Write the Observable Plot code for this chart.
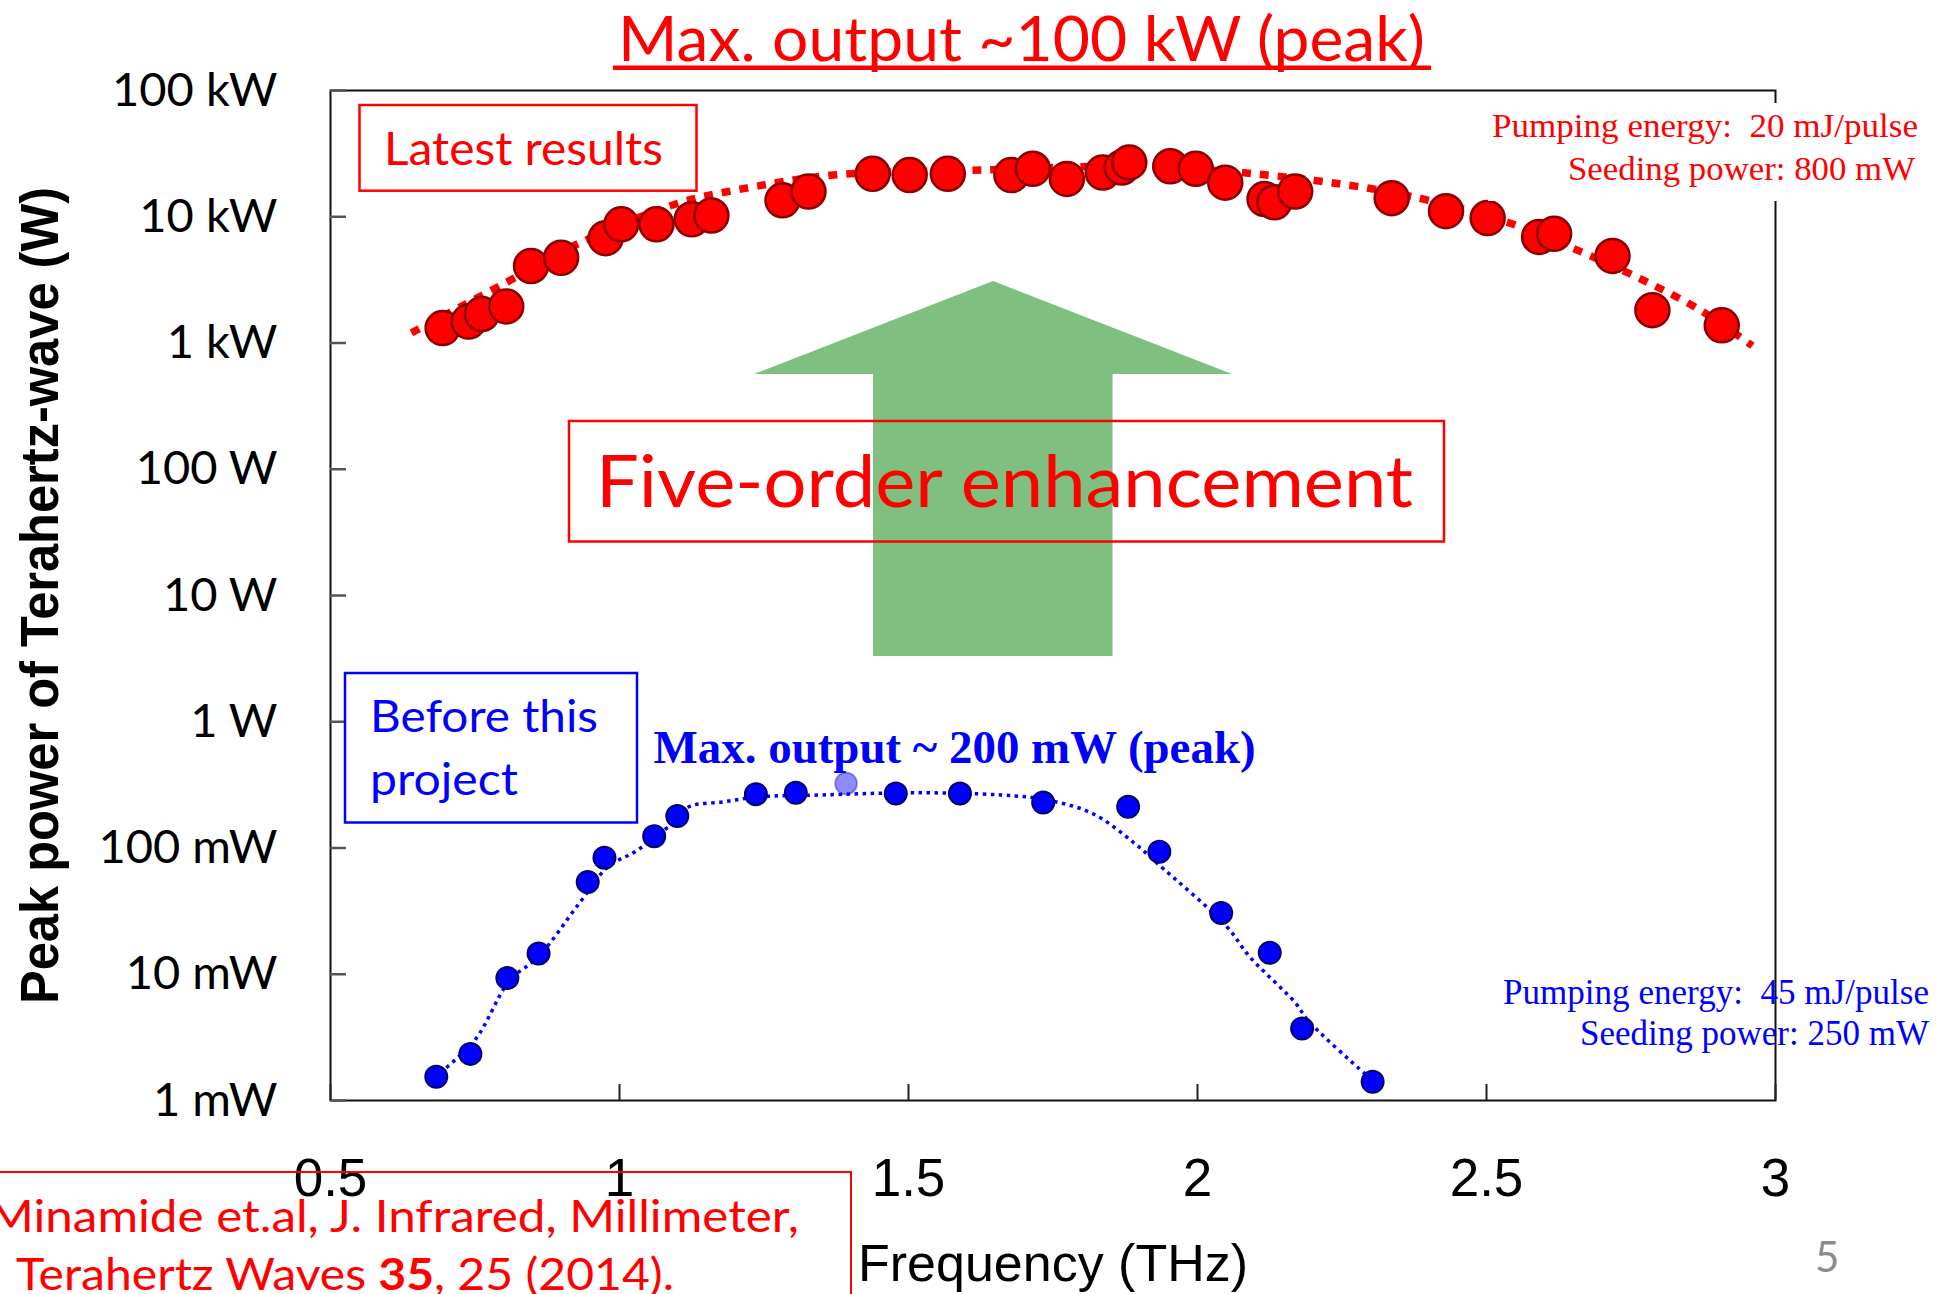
<!DOCTYPE html>
<html>
<head>
<meta charset="utf-8">
<script src="https://cdn.jsdelivr.net/npm/d3@7"></script>
<script src="https://cdn.jsdelivr.net/npm/@observablehq/plot@0.6"></script>
<style>
  html, body { margin: 0; padding: 0; background: #fff; }
  #page { position: relative; width: 1953px; height: 1294px; overflow: hidden; background: #fff; }
  #chart { position: absolute; left: 0; top: 0; }
  #overlay { position: absolute; left: 0; top: 0; pointer-events: none; }
  #chart g[aria-label="y-axis tick label"] { font-family: Lato, sans-serif; font-size: 47px; }
  #chart g[aria-label="x-axis tick label"] { font-family: "Liberation Sans", Arial, sans-serif; font-size: 53px; }
</style>
</head>
<body>
<div id="page">
  <div id="chart"></div>
  <svg id="overlay" width="1953" height="1294" viewBox="0 0 1953 1294">
    <!-- title -->
    <text x="618" y="61" font-family="Lato" font-size="61.5" fill="#ff0000" textLength="807" lengthAdjust="spacingAndGlyphs">Max. output ~100 kW (peak)</text>
    <rect x="613" y="65.5" width="818" height="4.5" fill="#ff0000"/>

    <!-- axis titles -->
    <text transform="translate(58,595.5) rotate(-90)" text-anchor="middle" font-family="Liberation Sans" font-weight="bold" font-size="54" fill="#000" textLength="817" lengthAdjust="spacingAndGlyphs">Peak power of Terahertz-wave (W)</text>
    <text x="858" y="1281" font-family="Liberation Sans" font-size="52.5" fill="#000" textLength="390" lengthAdjust="spacingAndGlyphs">Frequency (THz)</text>

    <!-- green arrow -->
    <polygon points="993,281 1232,374 1112.5,374 1112.5,656 873,656 873,374 754,374" fill="#7fbf7f"/>

    <!-- Five-order enhancement -->
    <rect x="569" y="421" width="875" height="120.5" fill="none" stroke="#ff0000" stroke-width="2.5"/>
    <text x="596" y="507.3" font-family="Lato" font-size="70.7" fill="#ff0000" textLength="817" lengthAdjust="spacingAndGlyphs">Five-order enhancement</text>

    <!-- Latest results -->
    <rect x="359.5" y="105" width="337" height="85.7" fill="none" stroke="#ff0000" stroke-width="2.5"/>
    <text x="384" y="165" font-family="Lato" font-size="46" fill="#ff0000" textLength="279" lengthAdjust="spacingAndGlyphs">Latest results</text>

    <!-- Before this project -->
    <rect x="345" y="673" width="292" height="149.5" fill="none" stroke="#0000ff" stroke-width="2.5"/>
    <text x="370" y="731.7" font-family="Lato" font-size="44" fill="#0000ff" textLength="228" lengthAdjust="spacingAndGlyphs">Before this</text>
    <text x="370" y="795" font-family="Lato" font-size="44" fill="#0000ff" textLength="148" lengthAdjust="spacingAndGlyphs">project</text>

    <!-- blue max output -->
    <text x="653.6" y="763" font-family="Liberation Serif" font-weight="bold" font-size="47" fill="#0000ff" textLength="602" lengthAdjust="spacingAndGlyphs">Max. output ~ 200 mW (peak)</text>

    <!-- red conditions -->
    <rect x="1488" y="103" width="440" height="98" fill="#fff"/>
    <text x="1492" y="137" font-family="Liberation Serif" font-size="34" fill="#ff0000" textLength="426" lengthAdjust="spacingAndGlyphs">Pumping energy:&#160;&#160;20 mJ/pulse</text>
    <text x="1568" y="180" font-family="Liberation Serif" font-size="34" fill="#ff0000" textLength="347" lengthAdjust="spacingAndGlyphs">Seeding power: 800 mW</text>

    <!-- blue conditions -->
    <text x="1503" y="1004" font-family="Liberation Serif" font-size="35" fill="#0000ff" textLength="426" lengthAdjust="spacingAndGlyphs">Pumping energy:&#160;&#160;45 mJ/pulse</text>
    <text x="1580" y="1045" font-family="Liberation Serif" font-size="35" fill="#0000ff" textLength="349" lengthAdjust="spacingAndGlyphs">Seeding power: 250 mW</text>

    <!-- citation -->
    <rect x="-10" y="1172" width="861" height="200" fill="none" stroke="#ff0000" stroke-width="2"/>
    <text x="-12" y="1231.7" font-family="Lato" font-size="44" fill="#ff0000" textLength="811" lengthAdjust="spacingAndGlyphs">Minamide et.al, J. Infrared, Millimeter,</text>
    <text x="16" y="1290" font-family="Lato" font-size="44" fill="#ff0000" textLength="658" lengthAdjust="spacingAndGlyphs">Terahertz Waves <tspan font-weight="bold">35</tspan>, 25 (2014).</text>

    <!-- page number -->
    <text x="1815" y="1272" font-family="Lato" font-size="42" fill="#8c8c8c">5</text>
  </svg>
</div>
<script>
// ---- axis ticks ----
const xTicks = [0.5, 1, 1.5, 2, 2.5, 3];
const xTickLabels = ["0.5", "1", "1.5", "2", "2.5", "3"];
const yTicks = [1e-3, 1e-2, 1e-1, 1, 10, 100, 1e3, 1e4, 1e5];
const yTickLabels = ["1 mW", "10 mW", "100 mW", "1 W", "10 W", "100 W", "1 kW", "10 kW", "100 kW"];

// ---- latest results (red), frequency in THz, power in W ----
const redFreq = [0.694, 0.739, 0.762, 0.804, 0.847, 0.899, 0.976, 1.003, 1.064, 1.125, 1.159, 1.282, 1.327,
  1.438, 1.502, 1.568, 1.678, 1.715, 1.774, 1.836, 1.869, 1.882, 1.953, 1.997, 2.048, 2.116, 2.133, 2.169,
  2.336, 2.430, 2.502, 2.591, 2.617, 2.718, 2.787, 2.907];
const redPower = [1312, 1479, 1698, 1950, 4074, 4732, 6761, 8710, 8710, 9550, 10230, 13490, 15850,
  21880, 21380, 21880, 21380, 23990, 19950, 22390, 24550, 26920, 25120, 23990, 18620, 13800, 13030, 15850,
  14030, 11070, 9772, 6918, 7328, 4898, 1820, 1380];

// red dotted trend line
const redFitFreq = [0.64, 0.80, 0.93, 1.10, 1.20, 1.37, 1.63, 1.90, 2.10, 2.29, 2.40, 2.54, 2.66, 2.77, 2.87, 2.96];
const redFitPower = [1202, 2951, 6166, 12740, 16220, 21380, 23440, 25120, 21880, 16980, 13490, 8913, 5370, 3162, 1820, 950];

// ---- before this project (blue) ----
const blueFreq = [0.683, 0.742, 0.806, 0.860, 0.945, 0.974, 1.060, 1.100, 1.236, 1.305,
  1.478, 1.589, 1.733, 1.880, 1.934, 2.041, 2.125, 2.181, 2.303];
const bluePower = [0.00154, 0.00234, 0.00933, 0.0146, 0.0537, 0.0838, 0.124, 0.179, 0.267, 0.274,
  0.270, 0.270, 0.229, 0.212, 0.0933, 0.0306, 0.0148, 0.00372, 0.00141];
const blueFadedFreq = [1.392];
const blueFadedPower = [0.324];

// blue dotted trend line
const blueFitFreq = [0.69, 0.75, 0.81, 0.86, 0.93, 0.98, 1.03, 1.09, 1.12, 1.18, 1.24, 1.35, 1.51, 1.66,
  1.74, 1.82, 1.89, 1.93, 2.05, 2.09, 2.17, 2.19, 2.29, 2.31];
const blueFitPower = [0.00166, 0.00302, 0.00891, 0.0138, 0.0363, 0.0708, 0.0955, 0.155, 0.212, 0.232, 0.254, 0.263, 0.274, 0.263,
  0.240, 0.186, 0.110, 0.0759, 0.0240, 0.0138, 0.00589, 0.00437, 0.00162, 0.00135];

const W = 1953, H = 1294;
const mT = 90, mR = 178, mB = 194, mL = 330;
const innerW = W - mL - mR, innerH = H - mT - mB;

const chart = Plot.plot({
  width: W,
  height: H,
  marginTop: mT,
  marginRight: mR,
  marginBottom: mB,
  marginLeft: mL,
  style: { background: "transparent", overflow: "visible" },
  x: { domain: [0.5, 3] },
  y: { type: "log", domain: [1e-3, 1e5] },
  marks: [
    Plot.frame({ stroke: "#111", strokeWidth: 2 }),
    Plot.tickY(yTicks, { y: d => d, insetRight: innerW - 16, stroke: "#555", strokeWidth: 2.5 }),
    Plot.tickX(xTicks, { x: d => d, insetTop: innerH - 16, stroke: "#222", strokeWidth: 2 }),
    Plot.axisY(yTicks, {
      tickFormat: d => yTickLabels[yTicks.indexOf(d)],
      tickSize: 0, tickPadding: 53, fontSize: 47, fontFamily: "Lato", fill: "#000", label: null
    }),
    Plot.axisX(xTicks, {
      tickFormat: d => xTickLabels[xTicks.indexOf(d)],
      tickSize: 0, tickPadding: 58, fontSize: 53, fontFamily: "Liberation Sans", fill: "#000", label: null
    }),
    Plot.line(redFitFreq, {
      x: redFitFreq, y: redFitPower, curve: "catmull-rom",
      stroke: "#ff0000", strokeWidth: 7.5, strokeDasharray: "9 9", strokeLinecap: "butt"
    }),
    Plot.dot(redFreq, { x: redFreq, y: redPower, r: 17, fill: "#ff0000", stroke: "#8a0000", strokeWidth: 2.5 }),
    Plot.line(blueFitFreq, {
      x: blueFitFreq, y: blueFitPower, curve: "catmull-rom",
      stroke: "#0000ff", strokeWidth: 3.5, strokeDasharray: "3.5 4.5", strokeLinecap: "butt"
    }),
    Plot.dot(blueFreq, { x: blueFreq, y: bluePower, r: 11, fill: "#0000ff", stroke: "#00006e", strokeWidth: 2 }),
    Plot.dot(blueFadedFreq, { x: blueFadedFreq, y: blueFadedPower, r: 11, fill: "#0000ff", fillOpacity: 0.45, stroke: "#000080", strokeOpacity: 0.3, strokeWidth: 2 })
  ]
});
document.getElementById("chart").appendChild(chart);
</script>
</body>
</html>
